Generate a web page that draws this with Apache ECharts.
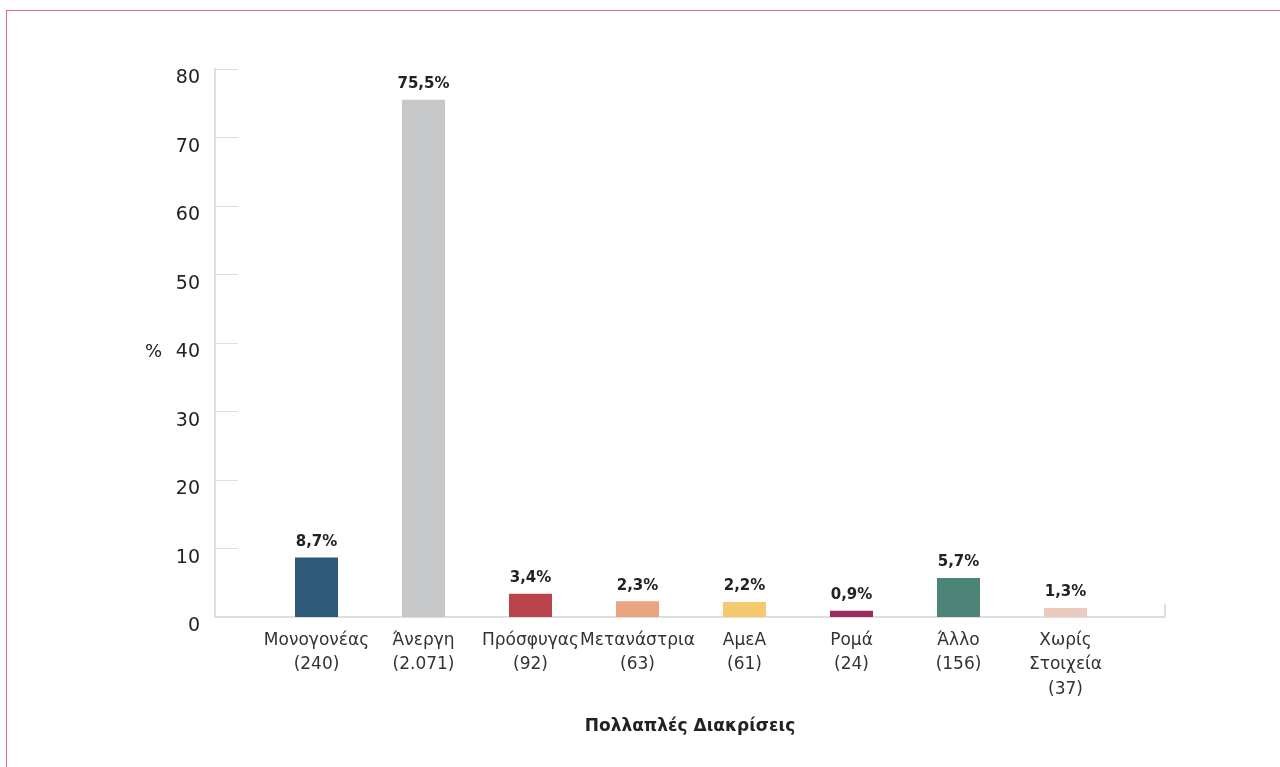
<!DOCTYPE html>
<html>
<head>
<meta charset="utf-8">
<script src="https://cdn.jsdelivr.net/npm/echarts@6/dist/echarts.min.js"></script>
<style>
  html, body { margin: 0; padding: 0; background: #fff; }
  #chart { width: 1280px; height: 767px; }
  .frame {
    position: absolute; left: 6px; top: 10px; width: 1400px; height: 900px;
    border: 1.5px solid #dc7078; pointer-events: none;
  }
</style>
</head>
<body>
<div id="chart"></div>
<div class="frame"></div>
<script>
const categories = ["Μονογονέας\n(240)", "Άνεργη\n(2.071)", "Πρόσφυγας\n(92)", "Μετανάστρια\n(63)",
  "ΑμεΑ\n(61)", "Ρομά\n(24)", "Άλλο\n(156)", "Χωρίς\nΣτοιχεία\n(37)"];
const values = [8.7, 75.5, 3.4, 2.3, 2.2, 0.9, 5.7, 1.3];
const barColors = ["#2e5a7a", "#c6c7c9", "#b9444c", "#eaa47f", "#f5c96f", "#9c2a5c", "#4c8478", "#ebcbbd"];
const yTicks = { min: 0, max: 80, interval: 10 };

const font = "DejaVu Sans";
const chart = echarts.init(document.getElementById("chart"));

const options = {
  animation: false,
  textStyle: { fontFamily: font },
  grid: [
    { left: 215, right: 115, top: 69, bottom: 150 },
    { left: 263, right: 161, top: 69, bottom: 150 },
  ],
  xAxis: [
    {
      // frame axis: line along the bottom with a closing tick on the right
      type: "value",
      gridIndex: 0,
      min: 0,
      max: 1,
      interval: 1,
      name: "Πολλαπλές Διακρίσεις",
      nameLocation: "middle",
      nameGap: 101,
      nameTextStyle: { fontSize: 17, fontWeight: "bold", color: "#222", fontFamily: font },
      axisLine: { show: true, lineStyle: { color: "#dedede", width: 2 } },
      axisTick: { show: true, inside: true, length: 13, lineStyle: { color: "#dedede", width: 2 } },
      axisLabel: { show: false },
      splitLine: { show: false },
    },
    {
      type: "category",
      gridIndex: 1,
      data: categories,
      axisLine: { show: false },
      axisTick: { show: false },
      axisLabel: {
        interval: 0,
        margin: 11,
        fontSize: 17,
        lineHeight: 24.5,
        color: "#333",
        fontFamily: font,
      },
    },
  ],
  yAxis: [
    {
      type: "value",
      gridIndex: 0,
      min: yTicks.min,
      max: yTicks.max,
      interval: yTicks.interval,
      name: "%",
      nameLocation: "middle",
      nameRotate: 0,
      nameGap: 53,
      nameTextStyle: { fontSize: 18, color: "#222", verticalAlign: "top", fontFamily: font },
      axisLine: { show: true, lineStyle: { color: "#dedede", width: 2 } },
      axisTick: { show: true, inside: true, length: 23, lineStyle: { color: "#dedede" } },
      axisLabel: { fontSize: 19, color: "#222", margin: 15, verticalAlign: "top", fontFamily: font },
      splitLine: { show: false },
    },
    {
      type: "value",
      gridIndex: 1,
      min: yTicks.min,
      max: yTicks.max,
      interval: yTicks.interval,
      show: false,
    },
  ],
  series: [
    {
      type: "bar",
      xAxisIndex: 1,
      yAxisIndex: 1,
      barWidth: 43,
      data: values.map((v, i) => ({ value: v, itemStyle: { color: barColors[i] } })),
      label: {
        show: true,
        position: "top",
        distance: 8,
        fontSize: 15,
        fontWeight: "bold",
        color: "#222",
        fontFamily: font,
        formatter: (p) => String(p.value).replace(".", ",") + "%",
      },
    },
  ],
};

chart.setOption(options);
</script>
</body>
</html>
